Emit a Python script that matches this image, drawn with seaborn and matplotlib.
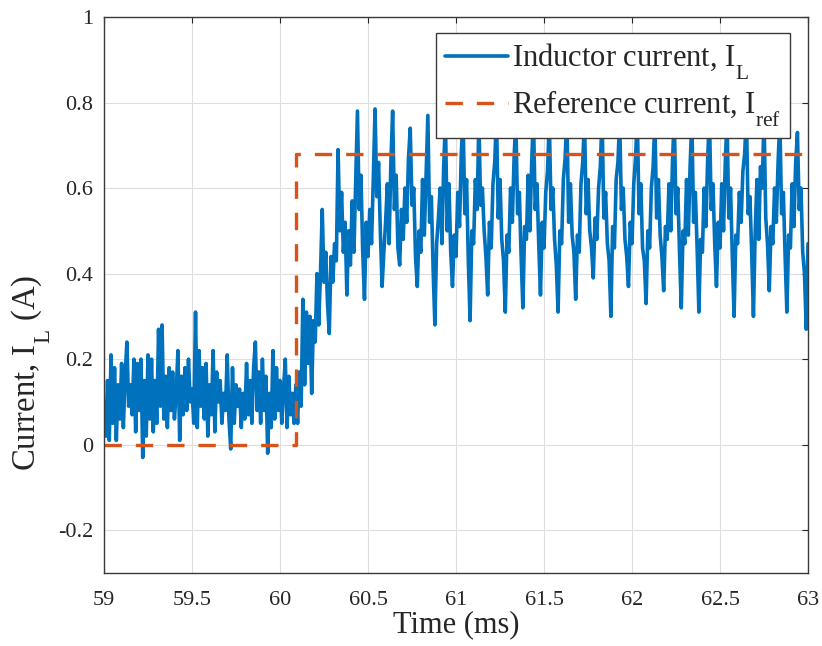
import numpy as np
import pandas as pd
import matplotlib
matplotlib.use("Agg")
import matplotlib.pyplot as plt
import seaborn as sns
from matplotlib.ticker import FuncFormatter

# ---------------------------------------------------------------------------
# Measured inductor current (A), sampled every 10 us starting at 59 ms
# ---------------------------------------------------------------------------
t_start = 59.0     # ms
t_step = 0.01      # ms

# before the reference step (59.00 - 60.08 ms)
il_pre = [
    0.10, 0.02, 0.15, 0.01, 0.21, 0.05, 0.18, 0.01, 0.14, 0.06,
    0.19, 0.04, 0.16, 0.24, 0.09, 0.14, 0.07, 0.20, 0.03, 0.19,
    0.08, 0.20, -0.03, 0.15, 0.02, 0.21, 0.06, 0.20, 0.03, 0.15,
    0.05, 0.27, 0.09, 0.28, 0.06, 0.16, 0.04, 0.18, 0.08, 0.17,
    0.06, 0.12, 0.22, 0.01, 0.16, 0.07, 0.18, 0.08, 0.20, 0.10,
    0.13, 0.05, 0.31, 0.04, 0.22, 0.09, 0.18, 0.06, 0.19, 0.02,
    0.14, 0.07, 0.22, 0.03, 0.17, 0.10, 0.15, 0.05, 0.12, 0.08,
    0.21, 0.06, -0.01, 0.18, 0.05, 0.14, 0.09, 0.13, 0.04, 0.12,
    0.06, 0.19, 0.07, 0.15, 0.05, 0.18, 0.24, 0.08, 0.17, 0.05,
    0.20, 0.08, 0.16, -0.02, 0.12, 0.04, 0.22, 0.06, 0.18, 0.08,
    0.15, 0.05, 0.13, 0.20, 0.04, 0.16, 0.07, 0.12, 0.05,
]

# transient after the step (60.09 - 60.59 ms)
il_step = [
    0.14, 0.05, 0.17, 0.09, 0.34, 0.14, 0.31, 0.19, 0.30, 0.12, 0.29,
    0.24, 0.40, 0.28, 0.40, 0.55, 0.38, 0.45, 0.33, 0.26, 0.44,
    0.38, 0.47, 0.43, 0.69, 0.50, 0.59, 0.45, 0.52, 0.35, 0.50,
    0.42, 0.57, 0.45, 0.62, 0.78, 0.55, 0.63, 0.45, 0.34, 0.52,
    0.44, 0.55, 0.47, 0.62, 0.785, 0.58, 0.66, 0.50, 0.37, 0.45,
]

# steady state (60.60 - 63.00 ms)
il_ss = [
    0.52, 0.61, 0.47, 0.66, 0.78, 0.55, 0.63, 0.46, 0.42, 0.55,
    0.48, 0.60, 0.52, 0.67, 0.74, 0.56, 0.60, 0.44, 0.37, 0.50,
    0.45, 0.62, 0.49, 0.63, 0.77, 0.52, 0.58, 0.41, 0.28, 0.47,
    0.53, 0.60, 0.47, 0.65, 0.76, 0.50, 0.61, 0.45, 0.37, 0.49,
    0.44, 0.59, 0.51, 0.68, 0.77, 0.54, 0.62, 0.43, 0.29, 0.50,
    0.47, 0.62, 0.55, 0.76, 0.56, 0.60, 0.50, 0.44, 0.35, 0.52,
    0.46, 0.61, 0.66, 0.77, 0.53, 0.62, 0.48, 0.43, 0.31, 0.49,
    0.45, 0.60, 0.52, 0.67, 0.76, 0.54, 0.59, 0.44, 0.32, 0.51,
    0.48, 0.63, 0.50, 0.66, 0.77, 0.55, 0.61, 0.47, 0.35, 0.52,
    0.46, 0.59, 0.64, 0.76, 0.55, 0.60, 0.48, 0.42, 0.31, 0.50,
    0.47, 0.62, 0.67, 0.77, 0.52, 0.61, 0.49, 0.45, 0.34, 0.49,
    0.45, 0.61, 0.66, 0.76, 0.54, 0.62, 0.50, 0.46, 0.39, 0.53,
    0.48, 0.60, 0.65, 0.77, 0.53, 0.59, 0.47, 0.43, 0.30, 0.51,
    0.46, 0.62, 0.66, 0.76, 0.55, 0.60, 0.48, 0.44, 0.37, 0.52,
    0.47, 0.61, 0.67, 0.77, 0.54, 0.61, 0.46, 0.43, 0.33, 0.50,
    0.46, 0.60, 0.65, 0.76, 0.53, 0.62, 0.49, 0.44, 0.36, 0.51,
    0.48, 0.61, 0.50, 0.66, 0.77, 0.54, 0.60, 0.45, 0.32, 0.50,
    0.47, 0.62, 0.49, 0.65, 0.76, 0.52, 0.59, 0.46, 0.31, 0.48,
    0.45, 0.60, 0.51, 0.67, 0.77, 0.55, 0.61, 0.47, 0.37, 0.52,
    0.46, 0.61, 0.50, 0.66, 0.76, 0.53, 0.60, 0.44, 0.30, 0.49,
    0.47, 0.59, 0.52, 0.64, 0.68, 0.77, 0.54, 0.58, 0.45, 0.30,
    0.50, 0.62, 0.48, 0.65, 0.60, 0.77, 0.53, 0.47, 0.36, 0.51,
    0.47, 0.60, 0.52, 0.66, 0.76, 0.54, 0.59, 0.44, 0.31, 0.49,
    0.46, 0.61, 0.51, 0.66, 0.73, 0.55, 0.60, 0.45, 0.40, 0.27,
    0.47,
]

# reference current command (A)
tref = [59.0, 60.09, 63.0]
iref = [0.0, 0.68, 0.68]

il = np.array(il_pre + il_step + il_ss)
t = t_start + t_step * np.arange(len(il))
meas = pd.DataFrame({"Time (ms)": t, "IL": il})
ref = pd.DataFrame({"Time (ms)": tref, "Iref": iref})

xticks = [59, 59.5, 60, 60.5, 61, 61.5, 62, 62.5, 63]
yticks = [-0.2, 0, 0.2, 0.4, 0.6, 0.8, 1]

# ---------------------------------------------------------------------------
# Style
# ---------------------------------------------------------------------------
sns.set_theme(style="whitegrid")
plt.rcParams["font.family"] = ["Liberation Serif", "DejaVu Serif"]
plt.rcParams["mathtext.fontset"] = "custom"
plt.rcParams["mathtext.rm"] = "Liberation Serif"
plt.rcParams["axes.unicode_minus"] = False

# drop subscripts further below the baseline (TeX-interpreter look)
try:
    from matplotlib import _mathtext as _mt
    _mt.FontConstantsBase.sub1 = 0.8
    _mt.FontConstantsBase.subdrop = 0.55
except Exception:
    pass

blue = "#0072BD"
orange = "#D95319"
dark = "#262626"

fig = plt.figure(figsize=(8.22, 6.46), dpi=100)
ax = fig.add_axes([104 / 822, 73 / 646, 704 / 822, 556 / 646])

sns.lineplot(data=meas, x="Time (ms)", y="IL", ax=ax, color=blue, lw=2.6,
             estimator=None, sort=False, errorbar=None,
             label=r"Inductor current, I$_{\mathregular{L}}$")
sns.lineplot(data=ref, x="Time (ms)", y="Iref", ax=ax, color=orange, lw=2.4,
             estimator=None, errorbar=None, drawstyle="steps-post",
             linestyle=(0, (5.2, 4.2)),
             label=r"Reference current, I$_{\mathregular{ref}}$")

ax.set_xlim(59, 63)
ax.set_ylim(-0.3, 1.0)
ax.set_xticks(xticks)
ax.set_yticks(yticks)
ax.xaxis.set_major_formatter(FuncFormatter(lambda v, p: f"{v:g}"))
ax.yaxis.set_major_formatter(FuncFormatter(lambda v, p: f"{round(v, 2) + 0:g}"))

ax.grid(True, color="#dedede", lw=0.8)
ax.set_axisbelow(True)
for s in ax.spines.values():
    s.set_color("#3a3a3a")
    s.set_linewidth(1.0)
ax.tick_params(axis="both", direction="in", length=4.5, width=0.8,
               colors=dark, labelsize=16, top=True, right=True,
               labeltop=False, labelright=False)
ax.tick_params(axis="x", pad=13)
ax.tick_params(axis="y", pad=8)

ax.set_xlabel("Time (ms)", fontsize=22, color=dark, labelpad=0)
ax.set_ylabel(r"Current, I$_{\mathregular{L}}$ (A)", fontsize=23.5, color=dark)
ax.yaxis.set_label_coords(-0.072, 0.36)

leg = ax.legend(loc="upper right", bbox_to_anchor=(0.975, 0.972),
                borderaxespad=0, fontsize=22, frameon=True, fancybox=False,
                framealpha=1, edgecolor="#3a3a3a", handlelength=2.05,
                handletextpad=0.15, borderpad=0.3, labelspacing=0.2)
leg.get_frame().set_linewidth(1.0)
for txt in leg.get_texts():
    txt.set_color(dark)

fig.savefig("out.png", dpi=100)
